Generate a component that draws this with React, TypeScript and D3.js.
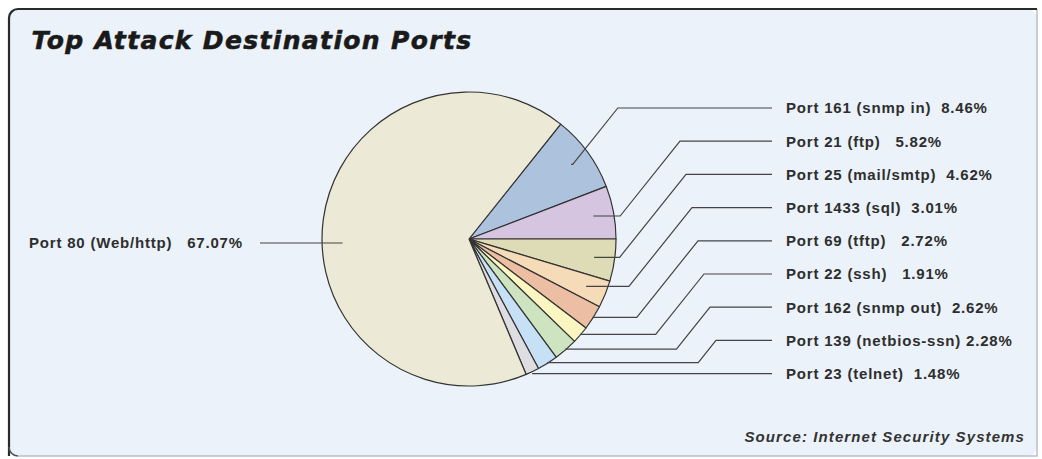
import React from "react";
import * as d3 from "d3";

const ports = [
  "Port 161 (snmp in)",
  "Port 21 (ftp)",
  "Port 25 (mail/smtp)",
  "Port 1433 (sql)",
  "Port 69 (tftp)",
  "Port 22 (ssh)",
  "Port 162 (snmp out)",
  "Port 139 (netbios-ssn)",
  "Port 23 (telnet)",
  "Port 80 (Web/http)",
];
const shares = [8.46, 5.82, 4.62, 3.01, 2.72, 1.91, 2.62, 2.28, 1.48, 67.07];
const labelGaps = [2, 3, 2, 2, 3, 3, 2, 1, 2, 3];
const sliceColors = [
  "#adc2dc",
  "#d6c5e1",
  "#dedcb6",
  "#f6dbb8",
  "#ecbea3",
  "#fbf5c1",
  "#cee3bf",
  "#c6e0f6",
  "#dddde2",
  "#ecead6",
];
const title = "Top Attack Destination Ports";
const source = "Source: Internet Security Systems";

const W = 1042;
const H = 459;
const cx = 469;
const cy = 239;
const R = 147;

export default function App() {
  const total = d3.sum(shares);
  const rightShare = shares[0] + shares[1];
  const start = Math.PI / 2 - (rightShare / total) * 2 * Math.PI;
  const pie = d3
    .pie<number>()
    .sort(null)
    .value((d) => d)
    .startAngle(start)
    .endAngle(start + 2 * Math.PI);
  const arcs = pie(shares);
  const arc = d3.arc<d3.PieArcDatum<number>>().innerRadius(0).outerRadius(R);

  const labelY = d3.scaleLinear().domain([0, 8]).range([108, 373.6]);
  const labelX = 786;
  const lineEndX = 772;
  const line = d3.line();

  const labelText = (i: number) =>
    ports[i] + " ".repeat(labelGaps[i]) + shares[i].toFixed(2) + "%";

  const leaders = arcs.slice(0, 9).map((a, i) => {
    const mid = (a.startAngle + a.endAngle) / 2;
    const span = a.endAngle - a.startAngle;
    const ar = span > 0.175 ? R * 0.86 : R * 0.995;
    const ax = cx + ar * Math.sin(mid);
    const ay = cy - ar * Math.cos(mid);
    const ly = labelY(i);
    const dy = ay - ly;
    let pts: [number, number][];
    if (Math.abs(dy) < 5) {
      pts = [
        [ax, ly],
        [lineEndX, ly],
      ];
    } else {
      const e2 = i === 0 ? ax + 0.83 * dy : 674 + 6 * i;
      let e1 = e2 - 0.8 * dy;
      if (e1 < ax) e1 = ax;
      pts = [
        [ax, ay],
        [e1, ay],
        [e2, ly],
        [lineEndX, ly],
      ];
    }
    return { d: line(pts) as string, ly };
  });

  const bigY = cy + 4;
  const textStyle: React.CSSProperties = { whiteSpace: "pre" };

  return (
    <svg
      width={W}
      height={H}
      style={{ position: "absolute", left: 0, top: 0, display: "block" }}
    >
      <rect x={0} y={0} width={W} height={H} fill="#ffffff" />
      <rect x={9} y={9} width={1028} height={447} rx={9} fill="#ebf2f9" />
      <path
        d="M 18 456 L 1037 456 L 1037 9"
        fill="none"
        stroke="#b9bec7"
        strokeWidth={1.5}
      />
      <path
        d="M 9 456 L 9 18 A 9 9 0 0 1 18 9 L 1037 9"
        fill="none"
        stroke="#2a2a2a"
        strokeWidth={2.2}
      />
      <path
        d="M 9 447 A 9 9 0 0 0 18 456"
        fill="none"
        stroke="#555"
        strokeWidth={1.5}
      />

      <text
        x={31.5}
        y={49}
        fontFamily="DejaVu Sans"
        fontWeight="bold"
        fontStyle="italic"
        fontSize={25}
        letterSpacing={1.35}
        fill="#1a1a1a"
        stroke="#1a1a1a"
        strokeWidth={0.6}
      >
        {title}
      </text>

      <g transform={`translate(${cx},${cy})`}>
        {arcs.map((a, i) => (
          <path
            key={i}
            d={arc(a) as string}
            fill={sliceColors[i]}
            stroke="#333"
            strokeWidth={1.2}
            strokeLinejoin="round"
          />
        ))}
      </g>

      {leaders.map((l, i) => (
        <path key={i} d={l.d} fill="none" stroke="#444" strokeWidth={1.2} />
      ))}
      <path
        d={line([
          [260, bigY],
          [cx - R * 0.86, bigY],
        ]) as string}
        fill="none"
        stroke="#444"
        strokeWidth={1.2}
      />

      <g
        fontFamily="Liberation Sans"
        fontWeight="bold"
        fontSize={15}
        letterSpacing={0.8}
        fill="#2e2e2e"
      >
        {leaders.map((l, i) => (
          <text
            key={i}
            x={labelX}
            y={l.ly + 5.3}
            style={textStyle}
            xmlSpace="preserve"
          >
            {labelText(i)}
          </text>
        ))}
        <text x={29} y={bigY + 5.3} style={textStyle} xmlSpace="preserve">
          {labelText(9)}
        </text>
      </g>

      <text
        x={1025}
        y={441.5}
        textAnchor="end"
        fontFamily="Liberation Sans"
        fontWeight="bold"
        fontStyle="italic"
        fontSize={15}
        letterSpacing={1.1}
        fill="#333"
      >
        {source}
      </text>
    </svg>
  );
}
